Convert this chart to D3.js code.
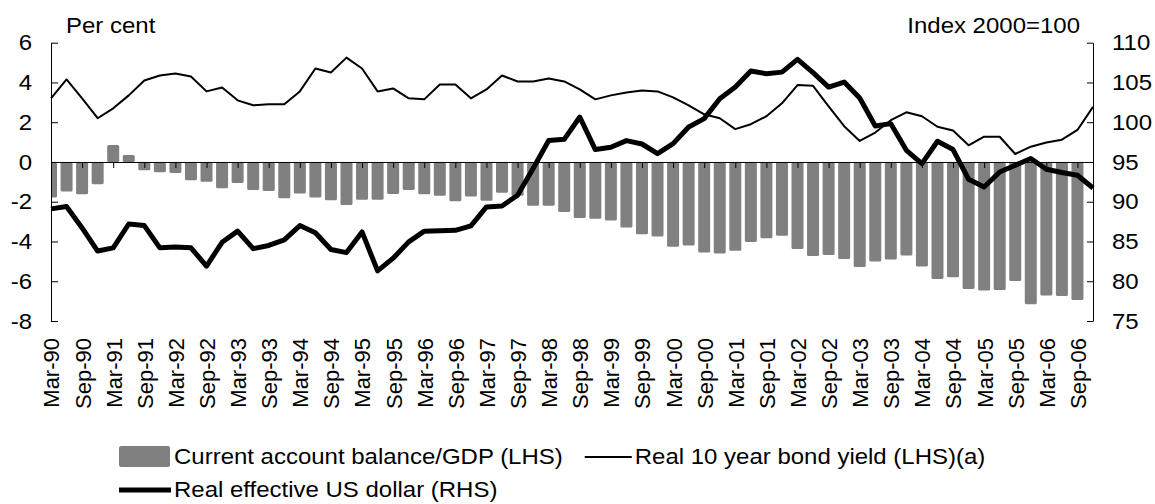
<!DOCTYPE html>
<html><head><meta charset="utf-8">
<script src="https://cdn.jsdelivr.net/npm/d3@7/dist/d3.min.js"></script>
<style>
html,body{margin:0;padding:0;background:#fff;}
svg text{font-family:"Liberation Sans",Arial,sans-serif;fill:#000;}
</style></head>
<body>
<svg id="chart" width="1155" height="504"></svg>
<script>
const categories = [
"Mar-90","Jun-90","Sep-90","Dec-90","Mar-91","Jun-91","Sep-91","Dec-91",
"Mar-92","Jun-92","Sep-92","Dec-92","Mar-93","Jun-93","Sep-93","Dec-93",
"Mar-94","Jun-94","Sep-94","Dec-94","Mar-95","Jun-95","Sep-95","Dec-95",
"Mar-96","Jun-96","Sep-96","Dec-96","Mar-97","Jun-97","Sep-97","Dec-97",
"Mar-98","Jun-98","Sep-98","Dec-98","Mar-99","Jun-99","Sep-99","Dec-99",
"Mar-00","Jun-00","Sep-00","Dec-00","Mar-01","Jun-01","Sep-01","Dec-01",
"Mar-02","Jun-02","Sep-02","Dec-02","Mar-03","Jun-03","Sep-03","Dec-03",
"Mar-04","Jun-04","Sep-04","Dec-04","Mar-05","Jun-05","Sep-05","Dec-05",
"Mar-06","Jun-06","Sep-06","Dec-06"];

const xTickLabels = [
"Mar-90","Sep-90","Mar-91","Sep-91","Mar-92","Sep-92","Mar-93","Sep-93",
"Mar-94","Sep-94","Mar-95","Sep-95","Mar-96","Sep-96","Mar-97","Sep-97",
"Mar-98","Sep-98","Mar-99","Sep-99","Mar-00","Sep-00","Mar-01","Sep-01",
"Mar-02","Sep-02","Mar-03","Sep-03","Mar-04","Sep-04","Mar-05","Sep-05",
"Mar-06","Sep-06"];

// Current account balance/GDP (LHS), per cent — Mar-90 .. Sep-06
const currentAccount = [
-1.79,-1.49,-1.63,-1.12,0.85,0.35,-0.42,-0.52,-0.55,-0.92,
-0.99,-1.32,-1.06,-1.41,-1.46,-1.83,-1.59,-1.79,-1.93,-2.16,
-1.90,-1.90,-1.61,-1.41,-1.62,-1.70,-1.98,-1.74,-1.95,-1.55,
-1.70,-2.20,-2.20,-2.52,-2.82,-2.86,-2.94,-3.30,-3.63,-3.75,
-4.27,-4.20,-4.55,-4.60,-4.46,-4.03,-3.84,-3.71,-4.38,-4.73,
-4.68,-4.88,-5.28,-5.01,-4.90,-4.71,-5.26,-5.89,-5.80,-6.39,
-6.47,-6.44,-5.99,-7.16,-6.72,-6.74,-6.94];

// Real 10 year bond yield (LHS)(a), per cent
const bondYield = [
3.20,4.15,3.20,2.20,2.70,3.35,4.10,4.35,4.45,4.30,
3.55,3.75,3.10,2.85,2.90,2.90,3.55,4.70,4.50,5.25,
4.70,3.55,3.70,3.20,3.15,3.90,3.90,3.20,3.65,4.35,
4.05,4.05,4.20,4.05,3.65,3.15,3.35,3.50,3.60,3.55,
3.25,2.85,2.40,2.20,1.65,1.90,2.30,2.95,3.87,3.83,
2.80,1.80,1.06,1.48,2.10,2.50,2.30,1.77,1.58,0.84,
1.27,1.27,0.40,0.77,0.98,1.12,1.61,2.77];

// Real effective US dollar (RHS), index 2000=100
const usDollar = [
89.1,89.4,86.7,83.8,84.2,87.2,87.0,84.2,84.3,84.2,
81.9,84.9,86.3,84.1,84.5,85.2,87.0,86.1,84.0,83.6,
86.2,81.3,82.9,84.95,86.3,86.35,86.4,86.96,89.35,89.47,
90.82,94.17,97.69,97.85,100.65,96.56,96.85,97.69,97.26,96.05,
97.31,99.4,100.45,102.96,104.42,106.43,106.1,106.3,107.9,106.23,
104.42,105.05,103.04,99.52,99.82,96.47,94.8,97.6,96.56,92.83,
91.86,93.74,94.59,95.43,94.08,93.67,93.33,91.73];

const leftTicks = [-8,-6,-4,-2,0,2,4,6];
const rightTicks = [75,80,85,90,95,100,105,110];

const FS = 22, SX = 1.09;
function stretch(sel){
  sel.each(function(){
    const w = this.getComputedTextLength();
    d3.select(this).attr("textLength", w*SX).attr("lengthAdjust","spacingAndGlyphs");
  });
}

const svg = d3.select("#chart");
const L = 51, R = 1093, T = 42.7, B = 321;

const x = d3.scalePoint().domain(categories).range([L, R]);
const yL = d3.scaleLinear().domain([-8, 6]).range([B, T]);
const yR = d3.scaleLinear().domain([75, 110]).range([B, T]);

svg.append("defs").append("clipPath").attr("id","plotclip")
  .append("rect").attr("x", L).attr("y", 0).attr("width", R - L).attr("height", 504);

// bars
const bw = 12;
svg.append("g").attr("clip-path","url(#plotclip)")
  .selectAll("rect").data(currentAccount).join("rect")
  .attr("x", (d,i) => x(categories[i]) - bw/2)
  .attr("width", bw)
  .attr("y", d => Math.min(yL(d), yL(0)))
  .attr("height", d => Math.abs(yL(d) - yL(0)))
  .attr("rx", 1.5)
  .attr("fill", "#808080");

// zero line with ticks
const zeroAxis = svg.append("g").attr("transform", `translate(0,${yL(0)})`)
  .call(d3.axisBottom(x).tickValues(xTickLabels).tickSize(6).tickFormat("").tickSizeOuter(0));
zeroAxis.selectAll("path,line").attr("stroke","#000").attr("stroke-width",1);

// left axis
const la = svg.append("g").attr("transform", `translate(${L},0)`)
  .call(d3.axisLeft(yL).tickValues(leftTicks).tickFormat(d => String(d)).tickSize(-7).tickSizeOuter(0).tickPadding(19));
la.selectAll("path,line").attr("stroke","#000");
la.selectAll("text").style("font-size",FS+"px").attr("fill","#000").call(stretch);

// right axis
const ra = svg.append("g").attr("transform", `translate(${R},0)`)
  .call(d3.axisRight(yR).tickValues(rightTicks).tickFormat(d => String(d)).tickSize(-6).tickSizeOuter(0).tickPadding(19));
ra.selectAll("path,line").attr("stroke","#000");
ra.selectAll("text").style("font-size",FS+"px").attr("fill","#000").call(stretch);

// x labels
const xa = svg.append("g").attr("transform", `translate(0,332)`)
  .call(d3.axisBottom(x).tickValues(xTickLabels).tickSize(0).tickPadding(0));
xa.select(".domain").remove();
xa.selectAll("text")
  .style("font-size",FS+"px")
  .attr("text-anchor","end")
  .attr("transform","rotate(-90)")
  .attr("x",-6).attr("y",0).attr("dy","0.36em");

// lines
const lineL = d3.line().x((d,i) => x(categories[i])).y(d => yL(d));
const lineR = d3.line().x((d,i) => x(categories[i])).y(d => yR(d));
svg.append("path").datum(bondYield).attr("d", lineL)
  .attr("fill","none").attr("stroke","#000").attr("stroke-width",2).attr("stroke-linejoin","round");
svg.append("path").datum(usDollar).attr("d", lineR)
  .attr("fill","none").attr("stroke","#000").attr("stroke-width",5).attr("stroke-linejoin","round");

// axis titles
svg.append("text").attr("x",66).attr("y",33).style("font-size",FS+"px").text("Per cent").call(stretch);
svg.append("text").attr("x",1080).attr("y",33).attr("text-anchor","end").style("font-size",FS+"px").text("Index 2000=100").call(stretch);

// legend
const leg = svg.append("g").attr("class","leg");
const row1 = 464, row2 = 497;
leg.append("rect").attr("x",119).attr("y",row1-18).attr("width",51).attr("height",21).attr("rx",2).attr("fill","#808080");
const t1 = leg.append("text").attr("x",174).attr("y",row1).style("font-size",FS+"px").text("Current account balance/GDP (LHS)").call(stretch);
const t1end = 174 + t1.node().getComputedTextLength();
leg.append("line").attr("x1",t1end+22).attr("x2",t1end+69).attr("y1",row1-7).attr("y2",row1-7).attr("stroke","#000").attr("stroke-width",2);
leg.append("text").attr("x",t1end+72).attr("y",row1).style("font-size",FS+"px").text("Real 10 year bond yield (LHS)(a)").call(stretch);
leg.append("line").attr("x1",119).attr("x2",171).attr("y1",row2-7).attr("y2",row2-7).attr("stroke","#000").attr("stroke-width",5);
leg.append("text").attr("x",174).attr("y",row2).style("font-size",FS+"px").text("Real effective US dollar (RHS)").call(stretch);
</script>
</body></html>
